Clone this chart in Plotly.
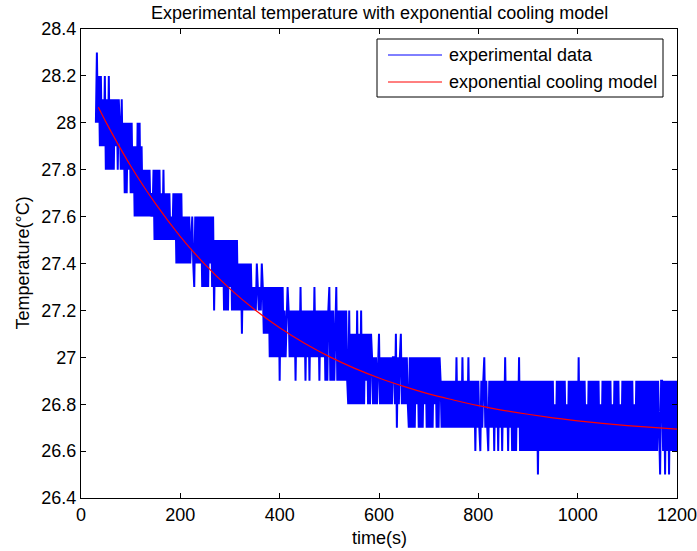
import plotly.graph_objects as go

# ---------------- data ----------------
title_text = "Experimental temperature with exponential cooling model"
x_label = "time(s)"
y_label = "Temperature(°C)"
legend_labels = ["experimental data", "exponential cooling model"]

x_tick_vals = [0, 200, 400, 600, 800, 1000, 1200]
x_tick_text = ["0", "200", "400", "600", "800", "1000", "1200"]
y_tick_vals = [26.4, 26.6, 26.8, 27.0, 27.2, 27.4, 27.6, 27.8, 28.0, 28.2, 28.4]
y_tick_text = ["26.4", "26.6", "26.8", "27", "27.2", "27.4", "27.6", "27.8", "28", "28.2", "28.4"]

# experimental data: one sample every 2 s from t = 30 s,
# each character is a 0.1 degC level above 26.5 degC (read from the picture)
sample_start_s = 30
sample_step_s = 2
level_base_c = 26.5
level_step_c = 0.1
level_codes = "0123456789abcdefghi"
data_chunks = [
    "fifh" "eh" "egeh" "dgdhdgdgdgegdg" "fdgd" "fcfcfdfcfc" "ebebfbfbebd" "b",  # 30-128 s
    "dbdbdbcbd" "adadadacada" "cacacabacac" "9c9c9c9b9" "b9b9b9ab98",         # 130-228 s
    "b9b9b9b" "8b8b8b8b9b8b" "7a8a8a8a8" "a7a7a7a8a7a7a7a7" "979697",         # 230-328 s
    "97979797" "87879878798" "68686" "858585858584858" "57578757575",         # 330-428 s
    "74757585" "75747574" "75758575" "7475757" "4747847474784747474",         # 430-528 s
    "7474" "373636363736373636463636" "5353535635353535353535",               # 530-628 s
    "536253563535353" "25252525352525253525252525352525" "424",               # 630-728 s
    "2424242424" "2425242425" "2424252424" "2414242142" "4524214242",         # 730-828 s
    "4142414241" "4252414241" "4141425141" "4141414141" "4141404141",         # 830-928 s
    "4141414141" "4131414141" "4141314141" "4141415141" "4141314141",         # 930-1028 s
    "4141414131" "4141414141" "3141414131" "4141414141" "4131414141",         # 1030-1128 s
    "4141414141" "4141414104" "4140414041" "414141",                          # 1130-1200 s
]

# exponential cooling model
model_times = [35, 50, 75, 100, 150, 200, 250, 300, 350, 400, 450, 500, 550,
               600, 650, 700, 750, 800, 850, 900, 950, 1000, 1050, 1100, 1150, 1200]
model_temps = [28.066, 28.004, 27.907, 27.816, 27.655, 27.515, 27.395, 27.292,
               27.203, 27.126, 27.060, 27.003, 26.954, 26.912, 26.876, 26.844,
               26.818, 26.794, 26.774, 26.757, 26.742, 26.729, 26.718, 26.709,
               26.701, 26.694]

# ---------------- build ----------------
codes = "".join(data_chunks)
exp_temps = [round(level_base_c + level_codes.index(c) * level_step_c, 2) for c in codes]
exp_times = [sample_start_s + i * sample_step_s for i in range(len(exp_temps))]

BLUE = "#0000ff"
RED = "#ff0000"
FONT = "Liberation Sans, Arial, Helvetica, sans-serif"
FS = 18

fig = go.Figure()
fig.add_trace(go.Scatter(x=exp_times, y=exp_temps, mode="lines",
                         line=dict(color=BLUE, width=2), name=legend_labels[0]))
fig.add_trace(go.Scatter(x=model_times, y=model_temps, mode="lines",
                         line=dict(color=RED, width=1.2, shape="spline"),
                         name=legend_labels[1]))

W, H = 697, 551
L, R, T, B = 81, 677, 29, 498


def px(x):
    return (x - L) / (R - L)


def py(y):
    return (B - y) / (B - T)


axis_common = dict(showline=True, linecolor="black", linewidth=1, mirror="ticks",
                   ticks="inside", ticklen=5, tickcolor="black", tickwidth=1,
                   showgrid=False, zeroline=False, automargin=False,
                   ticklabeloverflow="allow",
                   tickfont=dict(family=FONT, size=FS, color="black"))

fig.update_layout(
    width=W, height=H,
    margin=dict(l=L, r=W - R, t=T, b=H - B, pad=0),
    paper_bgcolor="white", plot_bgcolor="white",
    font=dict(family=FONT, size=FS, color="black"),
    showlegend=False,
    xaxis=dict(range=[0, 1200], tickvals=x_tick_vals, ticktext=x_tick_text, **axis_common),
    yaxis=dict(range=[26.4, 28.4], tickvals=y_tick_vals, ticktext=y_tick_text, **axis_common),
)

annotations = [
    dict(text=title_text, xref="paper", yref="paper", x=px((L + R) / 2), y=py(13),
         xanchor="center", yanchor="middle", showarrow=False,
         font=dict(family=FONT, size=FS, color="black")),
    dict(text=x_label, xref="paper", yref="paper", x=px((L + R) / 2), y=py(538),
         xanchor="center", yanchor="middle", showarrow=False,
         font=dict(family=FONT, size=FS, color="black")),
    dict(text=y_label, xref="paper", yref="paper", x=px(22), y=py((T + B) / 2),
         xanchor="center", yanchor="middle", showarrow=False, textangle=-90,
         font=dict(family=FONT, size=FS, color="black")),
]

# legend drawn as a MATLAB-style box
shapes = [dict(type="rect", xref="paper", yref="paper",
               x0=px(377), x1=px(663), y0=py(97), y1=py(39),
               line=dict(color="black", width=1), fillcolor="white", layer="above")]
for label, color, yy in [(legend_labels[0], BLUE, 55), (legend_labels[1], RED, 82)]:
    shapes.append(dict(type="line", xref="paper", yref="paper",
                       x0=px(388), x1=px(442), y0=py(yy), y1=py(yy),
                       line=dict(color=color, width=1), layer="above"))
    annotations.append(dict(text=label, xref="paper", yref="paper", x=px(447), y=py(yy),
                            xanchor="left", yanchor="middle", showarrow=False,
                            font=dict(family=FONT, size=FS, color="black")))
fig.update_layout(shapes=shapes, annotations=annotations)

fig.write_html("out.html", config={"displayModeBar": False},
               post_script="document.body.style.margin='0px';")
